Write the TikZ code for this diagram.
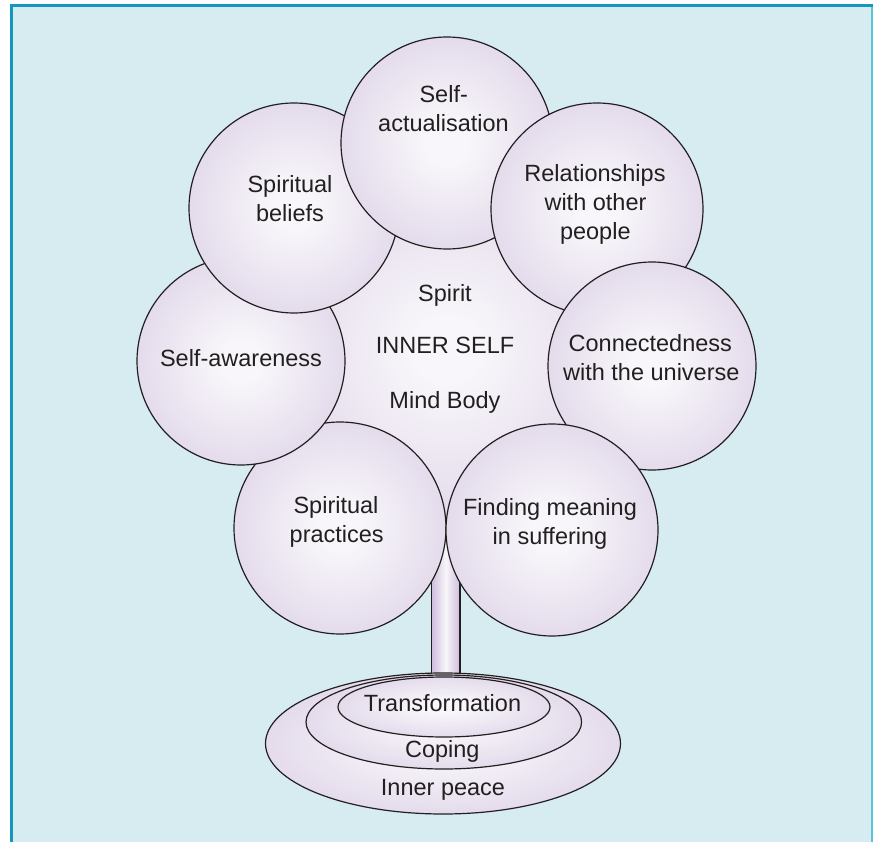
\documentclass[tikz,border=0pt]{standalone}
\usepackage{fontspec}
\setmainfont{Liberation Sans}
\usetikzlibrary{shapes.geometric}
\definecolor{bgblue}{RGB}{214,236,240}
\definecolor{frameblue}{RGB}{20,152,190}
\definecolor{framelight}{RGB}{90,196,218}
\definecolor{lavedge}{RGB}{206,189,221}
\definecolor{lavmid}{RGB}{227,218,235}
\definecolor{lavcenter}{RGB}{248,246,250}
\definecolor{inkc}{RGB}{35,31,32}
\pgfdeclareradialshading{sphere}{\pgfpoint{0bp}{0bp}}{color(0bp)=(lavcenter); color(5bp)=(lavcenter); color(26bp)=(lavmid); color(50bp)=(lavedge)}
\tikzset{
  lbl/.style={font=\fontsize{23.5}{28}\selectfont, text=inkc, anchor=base, inner sep=0pt, outer sep=0pt},
  ball/.style={circle, draw=inkc, line width=1.2pt, shade, shading=sphere, inner sep=0pt, outer sep=0pt, minimum size=#1},
  disc/.style n args={2}{ellipse, draw=inkc, line width=1.2pt, shade, shading=sphere, inner sep=0pt, outer sep=0pt, minimum width=#1, minimum height=#2},
}
\begin{document}
\begin{tikzpicture}[x=1pt,y=-1pt]
\useasboundingbox (0,0) rectangle (873,842);
% background and frame
\fill[bgblue] (12,6) rectangle (873,842);
\draw[frameblue, line width=3pt] (10,5.5) -- (873,5.5);
\draw[frameblue, line width=3pt] (11.5,4) -- (11.5,842);
\draw[framelight, line width=1.5pt] (872.2,7) -- (872.2,842);

% stem
\shade[left color=lavedge, right color=lavedge, middle color=lavcenter] (431.5,500) rectangle (460,676);
\draw[inkc, line width=1.2pt] (431.5,500) -- (431.5,676);
\draw[inkc, line width=1.2pt] (460,500) -- (460,676);

% inner self (central)
\node[circle, shade, shading=sphere, inner sep=0pt, minimum size=330pt] (core) at (447,350) {};

% surrounding circles (drawn in stacking order)
\node[ball=212pt] (sprac) at (340,528) {};
\node[ball=208pt] (saware) at (241,361) {};
\node[ball=210pt] (sbel) at (294,208) {};
\node[ball=212pt] (sact) at (447,143) {};
\node[ball=212pt] (rel) at (597,209) {};
\node[ball=208pt] (conn) at (652,366) {};
\node[ball=212pt] (find) at (552,530) {};

% base ellipses
\node[disc={355pt}{141pt}] (outer) at (443,743.5) {};
\node[disc={275.6pt}{94pt}] (middle) at (443.8,722) {};
\node[disc={212pt}{60pt}] (inner) at (444,707) {};

% labels
\node[lbl] (sact1) at (443.7,103) {Self-};
\node[lbl] (sact2) at (443.5,132) {actualisation};
\node[lbl] (sbel1) at (290,192.7) {Spiritual};
\node[lbl] (sbel2) at (290,221.7) {beliefs};
\node[lbl] (rel1) at (595,181.7) {Relationships};
\node[lbl] (rel2) at (595.5,211) {with other};
\node[lbl] (rel3) at (595.3,240) {people};
\node[lbl] (conn1) at (650.3,351.7) {Connectedness};
\node[lbl] (conn2) at (651.3,380) {with the universe};
\node[lbl] (saw) at (241,366.7) {Self-awareness};
\node[lbl] (sprac1) at (336,513.3) {Spiritual};
\node[lbl] (sprac2) at (336.7,542.7) {practices};
\node[lbl] (find1) at (550,515) {Finding meaning};
\node[lbl] (find2) at (550,544) {in suffering};
\node[lbl] (core1) at (445,301.7) {Spirit};
\node[lbl] (core2) at (445,354) {INNER SELF};
\node[lbl] (core3) at (445,408.3) {Mind Body};
\node[lbl] (trans) at (442.5,711.7) {Transformation};
\node[lbl] (cope) at (442.3,757.3) {Coping};
\node[lbl] (peace) at (443,795.7) {Inner peace};
\end{tikzpicture}
\end{document}
